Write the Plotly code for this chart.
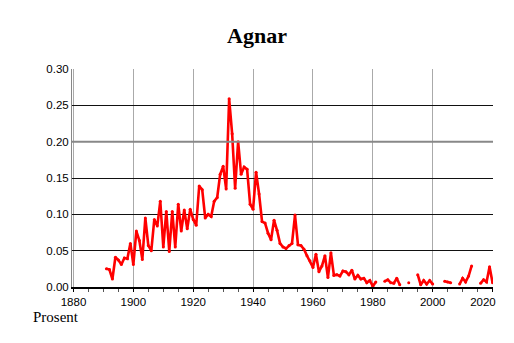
import plotly.graph_objects as go

years = list(range(1891, 2021))
values = [
    0.025, 0.024, 0.011, 0.041, 0.037, 0.031, 0.040, 0.039, 0.060,  # 1891-1899
    0.031, 0.077, 0.064, 0.038, 0.095, 0.057, 0.050, 0.093, 0.084, 0.118,  # 1900-1909
    0.055, 0.104, 0.049, 0.104, 0.055, 0.114, 0.077, 0.106, 0.080, 0.107,  # 1910-1919
    0.093, 0.085, 0.139, 0.134, 0.095, 0.100, 0.097, 0.118, 0.123, 0.155,  # 1920-1929
    0.166, 0.135, 0.259, 0.211, 0.136, 0.200, 0.155, 0.165, 0.162, 0.114,  # 1930-1939
    0.107, 0.158, 0.128, 0.090, 0.088, 0.074, 0.065, 0.092, 0.078, 0.060,  # 1940-1949
    0.055, 0.053, 0.057, 0.060, 0.099, 0.058, 0.057, 0.052, 0.043, 0.036,  # 1950-1959
    0.027, 0.045, 0.021, 0.029, 0.043, 0.013, 0.047, 0.016, 0.017, 0.015,  # 1960-1969
    0.022, 0.021, 0.017, 0.023, 0.011, 0.016, 0.011, 0.012, 0.006, 0.009,  # 1970-1979
    0.001, 0.007, None, None, 0.008, 0.010, 0.006, 0.005, 0.012, 0.003,  # 1980-1989
    None, None, 0.006, None, None, 0.017, 0.003, 0.009, 0.004, 0.009,  # 1990-1999
    0.004, None, None, None, 0.008, 0.007, 0.006, None, None, 0.004,  # 2000-2009
    0.012, 0.007, 0.015, 0.029, None, None, 0.005, 0.010, 0.007, 0.028,  # 2010-2019
    0.006,  # 2020
]

x_tick_vals = [1880, 1900, 1920, 1940, 1960, 1980, 2000, 2020]
x_tick_text = ["1880", "1900", "1920", "1940", "1960", "1980", "2000",
               "2020\u00a0\u00a0\u00a0\u00a0\u00a0\u00a0"]
y_tick_vals = [0.00, 0.05, 0.10, 0.15, 0.20, 0.25, 0.30]
y_tick_text = ["0.00", "0.05", "0.10", "0.15", "0.20", "0.25", "0.30"]

title_text = "Agnar"
y_label = "Prosent"

fig = go.Figure()
fig.add_trace(go.Scatter(
    x=years, y=values, mode="lines+markers",
    line=dict(color="#ff0000", width=2.6),
    marker=dict(color="#ff0000", size=3),
    connectgaps=False, hoverinfo="skip", showlegend=False,
))

fig.add_hline(y=0.20, line=dict(color="#888888", width=2), layer="above")

fig.update_layout(
    width=514, height=343,
    margin=dict(l=72, r=21, t=69, b=56, autoexpand=False),
    paper_bgcolor="white", plot_bgcolor="white",
    title=dict(text="<b>" + title_text + "</b>", x=0.5, xanchor="center",
               y=1 - 35 / 343, yanchor="middle",
               font=dict(family="Liberation Serif, Times New Roman, serif", size=22, color="black")),
    xaxis=dict(
        range=[1879.5, 2020.15], tickvals=x_tick_vals, ticktext=x_tick_text,
        showgrid=True, gridcolor="#aaaaaa", gridwidth=1,
        showline=True, linecolor="black", linewidth=1.5,
        ticks="outside", ticklen=3, tickcolor="black",
        minor=dict(dtick=5, tick0=1880, ticks="outside", ticklen=3, tickcolor="#555555", showgrid=False),
        tickfont=dict(family="Liberation Sans, Arial, sans-serif", size=11.5, color="black"),
        ticklabeloverflow="allow",
        zeroline=False, fixedrange=True, automargin=False,
    ),
    yaxis=dict(
        range=[0, 0.30], tickvals=y_tick_vals, ticktext=y_tick_text,
        showgrid=True, gridcolor="#111111", gridwidth=1,
        showline=True, linecolor="#888888", linewidth=1,
        ticks="", ticklen=0,
        tickfont=dict(family="Liberation Sans, Arial, sans-serif", size=11.5, color="black"),
        zeroline=False, fixedrange=True, automargin=False,
    ),
    annotations=[dict(
        text=y_label, xref="paper", yref="paper",
        x=-72 / 421, y=-(317 - 287) / 218, xanchor="left", yanchor="middle",
        xshift=31, showarrow=False,
        font=dict(family="Liberation Serif, Times New Roman, serif", size=15, color="black"),
    )],
)

fig.write_html("out.html", config={"displayModeBar": False},
               post_script="document.body.style.margin='0';document.body.style.padding='0';")
